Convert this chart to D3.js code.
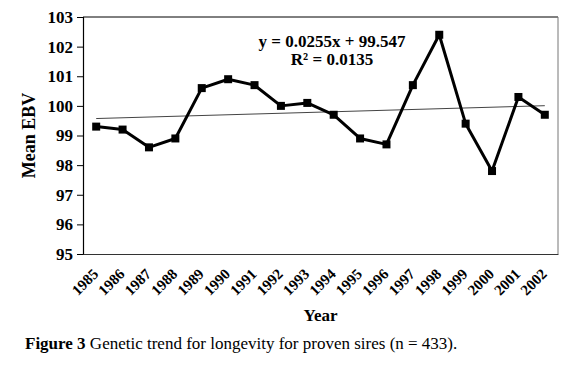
<!DOCTYPE html>
<html>
<head>
<meta charset="utf-8">
<script src="https://cdn.jsdelivr.net/npm/d3@7"></script>
<style>
  body { margin: 0; background: #fff; }
</style>
</head>
<body>
<svg id="chart"></svg>
<script>
const years = ['1985', '1986', '1987', '1988', '1989', '1990', '1991', '1992', '1993',
  '1994', '1995', '1996', '1997', '1998', '1999', '2000', '2001', '2002'];
const meanEbv = [99.3, 99.2, 98.6, 98.9, 100.6, 100.9, 100.7, 100.0, 100.1,
  99.7, 98.9, 98.7, 100.7, 102.4, 99.4, 97.8, 100.3, 99.7];
const yTicks = [95, 96, 97, 98, 99, 100, 101, 102, 103];
const trendSlope = 0.0255;
const trendIntercept = 99.547;
const rSquared = 0.0135;

const FONT = '"Liberation Serif", "Times New Roman", serif';
const W = 576, H = 365;
const margin = { top: 17, right: 18, bottom: 111, left: 83 };
const width = W - margin.left - margin.right;
const height = H - margin.top - margin.bottom;

const svg = d3.select('#chart').attr('width', W).attr('height', H)
  .attr('font-family', FONT);
const g = svg.append('g').attr('transform', `translate(${margin.left},${margin.top})`);

const x = d3.scaleBand().domain(years).range([0, width]);
const y = d3.scaleLinear().domain([95, 103]).range([height, 0]);
const cx = d => x(d) + x.bandwidth() / 2;

// top and right frame
g.append('line').attr('x1', 0).attr('x2', width).attr('y1', 0).attr('y2', 0)
  .attr('stroke', '#000').attr('stroke-width', 1);
g.append('line').attr('x1', width).attr('x2', width).attr('y1', 0).attr('y2', height)
  .attr('stroke', '#777').attr('stroke-width', 1);

// y axis
const yAxis = g.append('g')
  .call(d3.axisLeft(y).tickValues(yTicks).tickSize(6).tickPadding(4).tickFormat(d3.format('d')));
yAxis.attr('font-family', FONT);
yAxis.select('.domain').attr('stroke', '#000').attr('stroke-width', 1.2);
yAxis.selectAll('text').attr('font-size', 17).attr('font-weight', 'bold').attr('fill', '#000');

// x axis, no tick marks
const xAxis = g.append('g').attr('transform', `translate(0,${height})`)
  .call(d3.axisBottom(x).tickSize(0).tickPadding(0));
xAxis.attr('font-family', FONT);
xAxis.select('.domain').attr('stroke', '#333').attr('stroke-width', 1.2);
xAxis.selectAll('text')
  .attr('font-size', 15).attr('font-weight', 'bold').attr('fill', '#000')
  .style('text-anchor', 'end')
  .attr('x', 0).attr('y', 0).attr('dy', 0)
  .attr('transform', 'translate(3,21) rotate(-45)');

// trend line
const trend = [years[0], years[years.length - 1]].map(yr => {
  const i = years.indexOf(yr) + 1;
  return { yr, v: trendSlope * i + trendIntercept };
});
g.append('line')
  .attr('x1', cx(trend[0].yr)).attr('y1', y(trend[0].v))
  .attr('x2', cx(trend[1].yr)).attr('y2', y(trend[1].v))
  .attr('stroke', '#444').attr('stroke-width', 1);

// data line
const line = d3.line().x((d, i) => cx(years[i])).y(d => y(d));
g.append('path').datum(meanEbv)
  .attr('d', line).attr('fill', 'none')
  .attr('stroke', '#000').attr('stroke-width', 3).attr('stroke-linejoin', 'round');

g.selectAll('rect.pt').data(meanEbv).enter().append('rect')
  .attr('class', 'pt')
  .attr('x', (d, i) => cx(years[i]) - 4).attr('y', d => y(d) - 4)
  .attr('width', 8).attr('height', 8).attr('fill', '#000');

// equation
const eq = g.append('text').attr('x', 249).attr('y', 30)
  .attr('text-anchor', 'middle').attr('font-size', 17).attr('font-weight', 'bold');
eq.append('tspan').attr('x', 249).attr('dy', 0)
  .text(`y = ${trendSlope}x + ${trendIntercept}`);
eq.append('tspan').attr('x', 249).attr('dy', 18)
  .text(`R² = ${rSquared}`);

// axis titles
svg.append('text').attr('transform', `translate(35,${margin.top + height / 2}) rotate(-90)`)
  .attr('text-anchor', 'middle').attr('font-size', 18).attr('font-weight', 'bold')
  .text('Mean EBV');
svg.append('text').attr('x', margin.left + width / 2).attr('y', 321)
  .attr('text-anchor', 'middle').attr('font-size', 17).attr('font-weight', 'bold')
  .text('Year');

// caption
const cap = svg.append('text').attr('x', 25).attr('y', 349).attr('font-size', 17);
cap.append('tspan').attr('font-weight', 'bold').text('Figure 3');
cap.append('tspan').text(' Genetic trend for longevity for proven sires (n = 433).');
</script>
</body>
</html>
